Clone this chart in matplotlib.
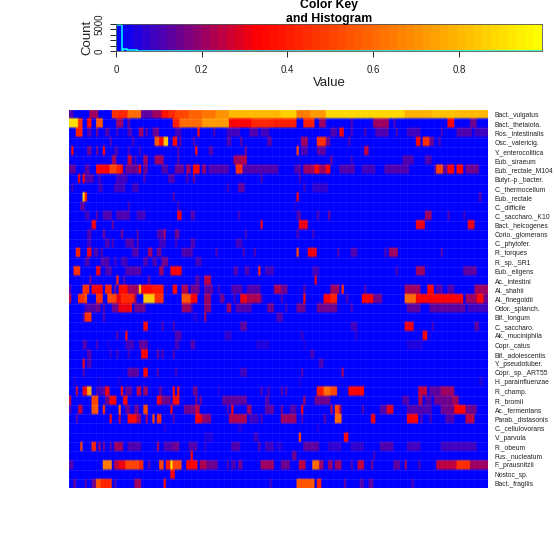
import numpy as np
import matplotlib
matplotlib.use("Agg")
import matplotlib.pyplot as plt
from matplotlib.colors import LinearSegmentedColormap

plt.rcParams['font.family'] = ['Liberation Sans', 'DejaVu Sans']

n_cols = 186

row_names = ["Bact._vulgatus", "Bact._thetaiota.", "Ros._intestinalis", "Osc._valericig.", "Y._enterocolitica",
             "Eub._siraeum", "Eub._rectale_M104", "Butyr.-p._bacter.", "C._thermocellum", "Eub._rectale",
             "C._difficile", "C._saccharo._K10", "Bact._helcogenes", "Corio._glomerans", "C._phytofer.",
             "R._torques", "R._sp._SR1", "Eub._eligens", "Ac._intestini", "Al._shahii", "Al._finegoldii",
             "Odor._splanch.", "Bif._longum", "C._saccharo.", "Ak._muciniphila", "Copr._catus",
             "Bif._adolescentis", "Y._pseudotuber.", "Copr._sp._ART55", "H._parainfluenzae", "R._champ.",
             "R._bromii", "Ac._fermentans", "Parab._distasonis", "C._cellulovorans", "V._parvula", "R._obeum",
             "Fus._nucleatum", "F._prausnitzii", "Nostoc_sp.", "Bact._fragilis"]

# (first col, last col, value), everything else is 0
row_spans = [
    [(0,1,.1),(9,12,.2),(19,21,.45),(22,25,.42),(26,31,.6),(32,36,.12),(37,40,.2),(41,43,.36),(44,46,.42),(47,52,.5),(53,58,.58),(59,64,.62),(65,70,.7),(71,93,.8),(94,100,.86),(101,106,.65),(107,113,.72),(114,148,.88),(149,160,.78),(161,172,.82),(173,185,.8)],
    [(0,3,.9),(4,5,.45),(8,9,.35),(12,14,.55),(21,23,.2),(26,26,.15),(46,48,.4),(49,58,.6),(59,70,.72),(71,80,.32),(81,90,.42),(91,100,.4),(104,108,.4),(111,113,.2),(125,125,.1),(135,141,.2),(144,144,.1),(168,170,.33),(178,180,.15)],
    [(3,5,.4),(8,9,.1),(12,12,.15),(16,17,.1),(21,21,.08),(26,27,.1),(31,32,.2),(34,34,.12),(37,37,.12),(38,39,.15),(47,49,.08),(57,57,.35),(64,64,.1),(70,75,.08),(80,83,.1),(85,88,.08),(116,118,.1),(120,121,.3),(125,125,.1),(131,131,.1),(136,141,.1),(145,145,.1),(150,155,.08),(165,165,.08),(172,178,.1),(180,185,.08)],
    [(18,18,.1),(28,28,.1),(38,39,.55),(40,41,.35),(42,43,.85),(46,47,.35),(49,49,.12),(55,55,.1),(70,71,.1),(76,76,.12),(88,89,.12),(103,105,.2),(110,113,.45),(114,115,.15),(124,124,.1),(154,155,.33),(157,159,.45),(160,161,.15),(164,164,.1)],
    [(1,1,.33),(8,9,.15),(12,12,.15),(15,15,.33),(20,21,.08),(26,26,.08),(31,31,.08),(48,48,.1),(56,56,.35),(62,63,.1),(78,78,.15),(101,101,.5),(103,105,.1),(110,113,.12),(131,132,.25)],
    [(19,20,.2),(26,27,.25),(29,29,.1),(33,34,.2),(38,41,.2),(48,48,.1),(73,75,.2),(76,78,.22),(116,116,.15),(125,125,.08),(148,152,.1),(158,160,.1)],
    [(0,2,.12),(7,8,.12),(12,14,.32),(15,17,.33),(18,20,.5),(21,22,.4),(23,23,.35),(25,30,.15),(31,31,.3),(33,34,.15),(41,43,.1),(47,50,.15),(52,53,.2),(55,57,.34),(59,60,.18),(62,70,.1),(74,76,.45),(77,92,.1),(100,102,.1),(104,108,.2),(109,110,.35),(111,113,.2),(114,115,.33),(120,126,.1),(130,135,.08),(140,150,.1),(162,162,.1),(163,165,.5),(166,167,.12),(168,170,.33),(172,174,.33),(176,181,.15)],
    [(4,4,.3),(6,6,.33),(7,10,.1),(13,13,.1),(21,25,.08),(33,33,.1),(44,46,.1),(52,52,.1),(55,55,.15),(85,85,.1),(102,102,.08)],
    [(1,1,.08),(13,14,.08),(20,24,.08),(28,30,.08),(70,70,.08),(75,77,.12),(104,104,.08),(108,114,.06)],
    [(6,6,.85),(7,7,.4),(46,46,.1),(101,101,.3),(182,182,.12)],
    [(5,6,.12),(26,26,.08),(48,48,.08),(100,100,.05)],
    [(7,8,.08),(12,12,.1),(15,18,.1),(21,26,.1),(30,33,.08),(48,49,.3),(54,55,.1),(75,75,.08),(101,102,.1),(110,110,.1),(115,115,.15),(158,160,.2),(168,168,.1),(175,175,.08)],
    [(10,11,.3),(19,19,.12),(85,85,.3),(102,105,.3),(154,157,.3),(177,179,.3)],
    [(8,9,.1),(15,15,.15),(23,23,.15),(30,30,.1),(39,41,.1),(42,42,.2),(47,48,.15),(78,78,.08),(101,101,.1),(108,108,.08)],
    [(8,9,.08),(16,17,.1),(19,19,.1),(25,28,.1),(30,30,.1),(40,42,.08),(47,47,.08),(54,55,.1),(74,76,.08)],
    [(3,4,.4),(8,9,.3),(11,12,.1),(14,14,.1),(28,30,.1),(35,36,.2),(39,40,.15),(50,54,.1),(65,65,.1),(77,77,.1),(82,82,.1),(101,101,.5),(106,109,.3),(119,119,.1),(125,127,.1),(140,140,.1),(142,145,.2),(165,165,.1)],
    [(7,8,.1),(14,17,.1),(20,20,.08),(23,25,.08),(33,34,.1),(37,38,.1),(41,43,.15),(56,58,.08)],
    [(2,4,.45),(12,13,.3),(16,18,.1),(25,30,.1),(31,31,.12),(40,41,.2),(45,46,.33),(47,49,.33),(73,74,.1),(78,79,.1),(84,84,.4),(87,90,.08),(108,110,.08),(145,145,.1),(154,157,.2),(175,180,.12)],
    [(9,9,.15),(21,21,.4),(24,24,.1),(35,35,.12),(56,57,.1),(60,62,.25),(109,109,.3)],
    [(0,0,.1),(6,8,.45),(10,13,.33),(14,14,.3),(16,18,.4),(20,20,.15),(22,25,.35),(26,30,.2),(31,31,.8),(32,36,.35),(37,41,.38),(43,43,.05),(46,47,.35),(50,52,.22),(54,57,.15),(60,63,.12),(66,66,.08),(72,76,.1),(79,84,.1),(91,93,.22),(94,96,.15),(104,104,.12),(116,119,.2),(121,121,.45),(131,131,.1),(149,155,.2),(159,161,.33),(163,165,.1),(168,170,.1),(180,185,.2)],
    [(0,0,.25),(4,6,.45),(7,7,.55),(12,14,.45),(17,20,.5),(21,22,.3),(23,28,.42),(29,29,.2),(33,37,.85),(38,41,.45),(50,53,.55),(54,56,.33),(60,62,.2),(67,68,.15),(73,73,.1),(76,78,.3),(79,84,.22),(85,85,.1),(94,94,.1),(104,104,.35),(113,115,.33),(116,118,.4),(123,123,.1),(130,134,.32),(135,138,.15),(149,153,.6),(154,174,.33),(176,180,.2),(181,183,.35),(184,185,.15)],
    [(7,11,.1),(12,13,.15),(15,15,.1),(19,21,.15),(22,27,.3),(29,33,.15),(50,53,.2),(54,54,.1),(60,62,.18),(70,71,.2),(74,80,.1),(88,90,.15),(96,96,.08),(101,104,.15),(110,118,.15),(125,125,.1),(150,155,.12),(160,175,.12),(177,185,.08)],
    [(6,6,.1),(7,9,.45),(15,15,.1),(55,56,.05),(60,60,.2),(92,94,.1)],
    [(33,34,.35),(41,41,.1),(46,46,.1),(76,77,.12),(78,78,.12),(125,127,.08),(149,152,.3),(161,161,.08),(180,181,.12)],
    [(21,21,.1),(25,25,.35),(47,49,.1),(69,71,.06),(103,103,.08),(127,127,.06),(157,158,.33)],
    [(6,7,.1),(12,12,.08),(17,17,.05),(25,28,.08),(31,34,.12),(47,48,.08),(54,55,.1),(83,88,.05),(104,104,.05),(150,156,.04)],
    [(8,9,.1),(18,18,.06),(21,21,.08),(26,26,.08),(32,34,.32),(39,39,.12),(41,41,.1),(46,46,.1),(107,108,.08)],
    [(6,6,.3),(8,9,.1),(111,112,.1)],
    [(6,6,.1),(26,30,.12),(33,34,.33),(39,39,.1),(47,47,.08),(76,78,.08),(103,103,.1),(121,121,.2)],
    [(2,2,.05),(13,13,.05),(22,22,.05),(102,102,.05),(182,183,.05)],
    [(3,3,.25),(6,7,.3),(8,9,.75),(12,13,.08),(14,15,.1),(16,17,.3),(23,23,.35),(25,27,.12),(30,31,.25),(33,34,.2),(40,40,.15),(41,41,.05),(46,46,.35),(48,48,.35),(55,56,.15),(66,66,.05),(85,85,.1),(88,88,.1),(94,94,.1),(96,96,.1),(110,112,.38),(113,115,.6),(116,118,.5),(124,130,.33),(155,158,.25),(160,164,.12),(165,170,.2)],
    [(0,0,.25),(10,12,.5),(16,17,.15),(18,20,.32),(24,25,.33),(39,40,.3),(41,44,.15),(46,48,.35),(56,56,.15),(58,58,.15),(68,78,.12),(87,88,.1),(104,104,.2),(109,115,.15),(148,150,.1),(155,156,.22),(158,160,.1),(162,169,.15),(170,172,.2)],
    [(0,0,.1),(4,5,.25),(10,12,.55),(15,15,.45),(22,22,.55),(25,26,.15),(29,30,.15),(33,34,.5),(45,45,.33),(51,55,.15),(56,57,.25),(70,70,.1),(72,72,.33),(79,80,.2),(87,90,.12),(94,94,.15),(98,100,.1),(103,103,.33),(116,116,.25),(118,119,.5),(120,120,.2),(130,130,.1),(138,140,.1),(141,143,.28),(150,160,.1),(165,170,.15),(171,175,.33),(176,180,.15)],
    [(3,3,.1),(18,18,.33),(22,22,.25),(26,29,.34),(30,31,.2),(34,34,.2),(37,37,.5),(39,40,.45),(46,46,.1),(56,58,.33),(59,62,.18),(71,78,.22),(80,83,.08),(85,85,.1),(94,100,.2),(103,103,.1),(113,113,.12),(118,120,.6),(134,135,.3),(150,154,.33),(156,156,.1),(160,160,.1),(167,170,.1),(176,179,.25)],
    [(42,42,.05),(75,76,.05),(110,110,.05)],
    [(60,63,.05),(82,83,.08),(102,102,.5),(122,123,.33)],
    [(5,5,.5),(10,11,.42),(13,13,.2),(15,15,.15),(18,18,.1),(20,23,.2),(26,29,.1),(30,31,.1),(39,39,.2),(42,45,.1),(46,48,.15),(53,56,.1),(60,60,.06),(72,75,.1),(84,84,.12),(87,90,.08),(92,94,.05),(104,110,.12),(115,120,.06),(125,130,.06),(138,143,.1),(150,155,.08),(165,180,.08)],
    [(54,54,.33),(99,100,.15),(135,135,.08)],
    [(0,1,.1),(15,18,.65),(20,21,.25),(22,24,.3),(25,30,.5),(31,32,.42),(35,35,.1),(40,41,.5),(43,44,.38),(45,45,.9),(46,49,.5),(52,54,.33),(55,56,.35),(58,60,.22),(61,65,.15),(70,70,.1),(72,73,.1),(75,76,.15),(85,90,.2),(94,97,.15),(102,104,.25),(108,110,.6),(111,112,.2),(115,116,.2),(118,120,.2),(125,125,.1),(128,130,.25),(134,134,.15),(144,146,.12),(149,149,.2),(155,155,.1),(163,171,.25),(172,177,.45),(178,185,.2)],
    [(45,46,.33)],
    [(2,2,.15),(7,7,.1),(10,11,.15),(12,13,.55),(14,18,.42),(20,20,.1),(29,31,.2),(42,42,.35),(89,89,.08),(101,108,.55),(110,111,.4),(122,122,.12),(129,130,.1),(133,134,.12),(152,152,.1)],
]

# colour key histogram
hist_edges = [0, .0135, .016, .025, .033, .05, .08, .12, .2, .3, .5, 1.0]
hist_counts = [4850, 60, 300, 250, 120, 70, 40, 30, 20, 10, 5]
key_ticks = [0, .2, .4, .6, .8]
key_max = .994

matrix = np.zeros((len(row_names), n_cols))
for r, spans in enumerate(row_spans):
    for a, b, v in spans:
        matrix[r, a:b + 1] = v

cmap = LinearSegmentedColormap.from_list("br", [(0, "#0000ff"), (.33, "#ff0000"), (1, "#ffff00")], N=50)

W = 554.0
fig = plt.figure(figsize=(5.54, 5.54), dpi=100)

def box(x0, y0, x1, y1):
    return [x0 / W, 1 - y1 / W, (x1 - x0) / W, (y1 - y0) / W]

ax = fig.add_axes(box(69, 110, 488, 488))
# the reference is a soft resampled bitmap, so repeat the cells and let bilinear blur only the edges
soft = np.repeat(np.repeat(matrix, 4, axis=0), 3, axis=1)
ax.imshow(soft, cmap=cmap, vmin=0, vmax=key_max, aspect="auto", interpolation="bilinear",
          interpolation_stage="rgba", extent=(-.5, n_cols - .5, len(row_names) - .5, -.5))
for y in np.arange(len(row_names) + 1) - .5:
    ax.axhline(y, color="white", alpha=.1, lw=.6)
for x in np.arange(0, n_cols + 1, 3) - .5:
    ax.axvline(x, color="white", alpha=.05, lw=.5)
ax.set_xticks([])
ax.yaxis.tick_right()
ax.set_yticks(range(len(row_names)))
ax.set_yticklabels(row_names, fontsize=4.9, color="#222222")
ax.tick_params(axis="y", length=0, pad=5)
for s in ax.spines.values():
    s.set_visible(False)

key = fig.add_axes(box(116, 24, 542, 51))
key.imshow(np.linspace(0, key_max, 50)[None, :], cmap=cmap, vmin=0, vmax=key_max,
           aspect="auto", extent=(0, key_max, 0, 5000), interpolation="nearest")
key.stairs(hist_counts, hist_edges, color="cyan", lw=1.1)
key.set_xlim(0, key_max)
key.set_ylim(0, 5000)
key.set_xticks(key_ticks)
key.set_xticklabels(["0", "0.2", "0.4", "0.6", "0.8"], fontsize=7, color="#222222")
key.set_yticks([0, 1000, 2000, 3000, 4000, 5000])
key.set_yticklabels(["0", "", "", "", "", "5000"], fontsize=7, rotation=90, va="center", color="#222222")
key.tick_params(axis="both", length=4.3, width=.6, pad=4)
key.tick_params(axis="x", pad=6)
for s in key.spines.values():
    s.set_linewidth(.6)
    s.set_color("#555555")
key.set_xlabel("Value", fontsize=9.5, labelpad=1, color="#222222")
key.set_ylabel("Count", fontsize=9.5, labelpad=1, color="#222222")

fig.text(329 / W, 1 - 5 / W, "Color Key", fontsize=8.8, fontweight="bold", ha="center", va="center", zorder=5)
fig.text(329 / W, 1 - 19 / W, "and Histogram", fontsize=8.8, fontweight="bold", ha="center", va="center", zorder=5)

fig.savefig("out.png", dpi=100)
plt.close(fig)
